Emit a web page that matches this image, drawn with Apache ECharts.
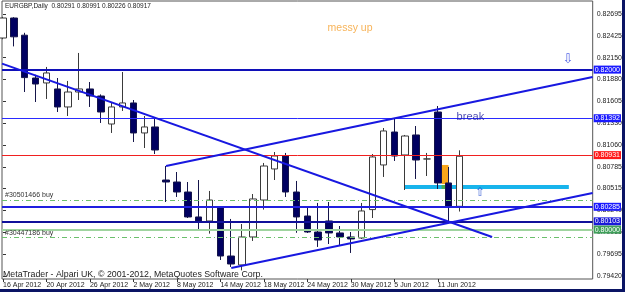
<!DOCTYPE html>
<html><head><meta charset="utf-8">
<script src="https://cdn.jsdelivr.net/npm/echarts@6/dist/echarts.min.js"></script>
<style>html,body{margin:0;padding:0;background:#fff;}#c{width:625px;height:292px;}</style>
</head><body><div id="c"></div>
<script>
// ---- data ----
const barIndex = [0,1,2,3,4,5,6,7,8,9,10,11,12,13,14,15,16,17,18,19,20,21,22,23,24,25,26,27,28,29,30,31,32,33,34,35,36,37,38,39,40,41,42];
const opens  = [0.82395,0.82645,0.82430,0.81895,0.81833,0.81758,0.81533,0.81720,0.81758,0.81670,0.81320,0.81533,0.81583,0.81208,0.81283,0.80620,0.80595,0.80470,0.80158,0.80108,0.80283,0.79670,0.79558,0.79908,0.80370,0.80758,0.80920,0.80470,0.80170,0.79970,0.80108,0.79958,0.79908,0.79895,0.80250,0.80808,0.81220,0.80933,0.81183,0.80883,0.81470,0.80583,0.80291];
const highs  = [0.82660,0.82655,0.82460,0.81935,0.82033,0.81895,0.81858,0.82208,0.81845,0.81690,0.81583,0.81970,0.81620,0.81420,0.81383,0.80795,0.80720,0.80595,0.80620,0.80483,0.80295,0.80133,0.80070,0.80445,0.80833,0.80970,0.80958,0.80608,0.80270,0.80333,0.80345,0.80045,0.79970,0.80333,0.80945,0.81270,0.81395,0.81183,0.81295,0.80958,0.81545,0.80783,0.80991];
const lows   = [0.82380,0.82290,0.81720,0.81595,0.81633,0.81470,0.81420,0.81620,0.81533,0.81333,0.81208,0.81483,0.81095,0.81020,0.80945,0.80345,0.80408,0.80145,0.79995,0.79950,0.79620,0.79533,0.79490,0.79858,0.80250,0.80620,0.80408,0.79960,0.79958,0.79783,0.79820,0.79808,0.79708,0.79883,0.80145,0.80658,0.80858,0.80495,0.80633,0.80670,0.80508,0.80095,0.80226];
const closes = [0.82645,0.82410,0.81900,0.81820,0.81958,0.81533,0.81720,0.81758,0.81670,0.81470,0.81533,0.81583,0.81208,0.81283,0.80995,0.80595,0.80470,0.80158,0.80108,0.80370,0.79670,0.79570,0.79908,0.80383,0.80795,0.80920,0.80470,0.80158,0.79970,0.79870,0.79958,0.79908,0.79883,0.80233,0.80908,0.81233,0.80920,0.81170,0.80870,0.80883,0.80583,0.80291,0.80917];

const dateTickIndex  = [0,4,8,12,16,20,24,28,32,36,40];
const dateTickLabels = ['16 Apr 2012','20 Apr 2012','26 Apr 2012','2 May 2012','8 May 2012','14 May 2012','18 May 2012','24 May 2012','30 May 2012','5 Jun 2012','11 Jun 2012'];
const priceTicks = [0.82695,0.82425,0.82150,0.81880,0.81605,0.81330,0.81060,0.80785,0.80515,0.80240,0.79965,0.79695,0.79420];

const hLinePrices = [0.82000,0.81392,0.80931,0.80285,0.80103,0.80000];
const orderLinePrices = [0.80372,0.79904];
const orderLineNames = ['#30501466 buy','#30447186 buy'];

const descLine  = [[-0.09,0.82074],[45.0,0.79908]];
const upperLine = [[15.0,0.80795],[54.25,0.81908]];
const lowerLine = [[21.0,0.79520],[54.25,0.80458]];

const orangeBox = [[40.35,0.80808],[40.99,0.80570]];
const cyanBand  = [[36.96,0.80558],[52.06,0.80508]];
const greenBox  = [[40.35,0.80558],[40.99,0.80508]];

const noteText = ['messy up','break','\u21E9','\u21E7'];
const notePos  = [[31.93,0.82520],[43.0,0.81408],[51.97,0.82120],[43.92,0.80465]];

// ---- styles ----
const hLineStyles = [
  {color:'#1010b8', width:2, bg:'#1a1aff'},
  {color:'#2a2aff', width:1, bg:'#1a1aff'},
  {color:'#f02020', width:1, bg:'#ff1a1a'},
  {color:'#2020e0', width:2, bg:'#1a1aff'},
  {color:'#10109a', width:2, bg:'#1a1ad8'},
  {color:'#9fd49f', width:2, bg:'#3fa05a'}
];
const noteStyles = [
  {color:'#f5a030', fontSize:10.5, fontFamily:'Liberation Sans'},
  {color:'#1c1c9c', fontSize:11, fontFamily:'Liberation Sans'},
  {color:'#2a40e0', fontSize:13, fontFamily:'DejaVu Sans'},
  {color:'#1e48d0', fontSize:12, fontFamily:'DejaVu Sans'}
];

const candleData = barIndex.map((x,k)=>[x, opens[k], closes[k], lows[k], highs[k]]);

const markLineData = [];
hLinePrices.forEach((v,k)=>{
  const s = hLineStyles[k];
  markLineData.push({
    yAxis: v,
    lineStyle:{color:s.color, width:s.width, type:'solid'},
    label:{show:true, position:'end', distance:1, formatter: v.toFixed(5),
      color:'#fff', backgroundColor:s.bg, fontSize:7, fontFamily:'Liberation Sans',
      padding:[1,1,0,1], lineHeight:7}
  });
});
orderLinePrices.forEach((v,k)=>{
  markLineData.push({
    yAxis: v,
    lineStyle:{color:'#6cbf6c', width:1, type:[5,3,1,3]},
    label:{show:true, position:'insideStartTop', distance:[3,1], formatter: orderLineNames[k],
      color:'#333', fontSize:7, fontFamily:'Liberation Sans'}
  });
});
[descLine, upperLine, lowerLine].forEach(l=>{
  markLineData.push([
    {coord:l[0], lineStyle:{color:'#1818e0', width:2, type:'solid'}, label:{show:false}},
    {coord:l[1]}
  ]);
});

const chart = echarts.init(document.getElementById('c'), null, {renderer:'canvas'});
chart.setOption({
  animation:false,
  backgroundColor:'#ffffff',
  grid:{left:2, right:29, top:1, bottom:13, show:true, borderColor:'#555', borderWidth:1, backgroundColor:'#fff'},
  xAxis:{
    type:'value', min:-0.0915, max:54.254,
    axisLine:{show:false}, splitLine:{show:false},
    axisTick:{show:true, customValues:dateTickIndex, length:3, lineStyle:{color:'#333'}},
    axisLabel:{customValues:dateTickIndex, formatter:(v)=>dateTickLabels[dateTickIndex.indexOf(Math.round(v))],
      align:'left', margin:3, fontSize:7, fontFamily:'Liberation Sans', color:'#222'}
  },
  yAxis:{
    type:'value', position:'right', min:0.793825, max:0.828575, scale:true,
    axisLine:{show:false}, splitLine:{show:false},
    axisTick:{show:true, customValues:priceTicks, length:3, lineStyle:{color:'#333'}},
    axisLabel:{customValues:priceTicks, formatter:(v)=>v.toFixed(5), margin:4, fontSize:7, fontFamily:'Liberation Sans', color:'#222'}
  },
  series:[
    {
      type:'candlestick', data:candleData, barWidth:7,
      encode:{x:0, y:[1,2,3,4]},
      itemStyle:{color:'#ffffff', color0:'#000060', borderColor:'#3a3a3a', borderColor0:'#15154a', borderColorDoji:'#3a3a3a', borderWidth:1},
      markArea:{silent:true, data:[
        [{coord:orangeBox[0], itemStyle:{color:'#f9a51a'}},{coord:orangeBox[1]}],
        [{coord:cyanBand[0], itemStyle:{color:'#18b4ec'}},{coord:cyanBand[1]}],
        [{coord:greenBox[0], itemStyle:{color:'#4caf50'}},{coord:greenBox[1]}]
      ]},
      markLine:{silent:true, precision:5, symbol:['none','none'], animation:false, data:markLineData}
    },
    {
      type:'scatter', symbolSize:1, itemStyle:{color:'rgba(0,0,0,0)'}, silent:true, z:5,
      data: notePos.map((p,k)=>({value:p, label:{show:true, position:'inside', formatter:noteText[k],
        color:noteStyles[k].color, fontSize:noteStyles[k].fontSize, fontFamily:noteStyles[k].fontFamily}}))
    }
  ],
  graphic:[
    {type:'text', left:5, top:3, style:{text:'EURGBP,Daily  0.80291 0.80991 0.80226 0.80917', fontSize:6.5, fontFamily:'Liberation Sans', fill:'#222'}},
    {type:'text', left:3, top:270, style:{text:'MetaTrader - Alpari UK, \u00A9 2001-2012, MetaQuotes Software Corp.', fontSize:8.8, fontFamily:'Liberation Sans', fill:'#222'}},
    {type:'rect', shape:{x:0, y:289, width:625, height:3}, style:{fill:'#0a1464'}},
    {type:'rect', shape:{x:622, y:0, width:3, height:292}, style:{fill:'#0a1464'}}
  ]
});
</script></body></html>
